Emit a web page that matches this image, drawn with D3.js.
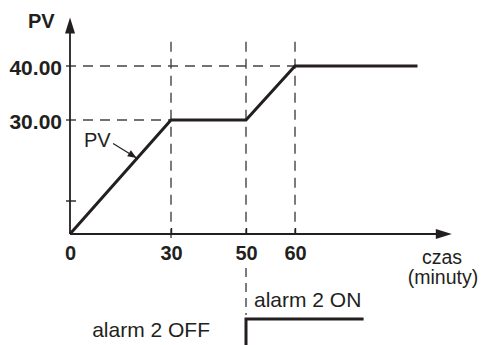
<!DOCTYPE html>
<html>
<head>
<meta charset="utf-8">
<script src="https://cdn.jsdelivr.net/npm/d3@7"></script>
<style>
  html, body { margin: 0; padding: 0; background: #fff; }
  svg text { font-family: Arial, "Liberation Sans", Helvetica, sans-serif; fill: #231f20; }
</style>
</head>
<body>
<script>
(function() {
  'use strict';

  // x ticks (minutes) and PV ramp/soak profile
  const timeTicks = [0, 30, 50, 60];
  const pvTime = [0, 30, 50, 60, 85];
  const pvValue = [0, 30, 30, 40, 40];
  const pvTicks = [30, 40];
  const minorTick = 10;
  // alarm 2 output: off before minute 50, on afterwards
  const alarmTime = [50, 50, 74];
  const alarmState = [0, 1, 1];

  const w = 482;
  const h = 345;
  const ink = '#231f20';
  const dashInk = '#444';

  // schematic drawing, not to scale -> piecewise scales
  const x = d3.scaleLinear()
    .domain([0, 30, 50, 60])
    .range([70, 171, 246, 295]);
  const y = d3.scaleLinear()
    .domain([0, 10, 30, 40])
    .range([234, 201, 120, 66]);
  const alarmY = d3.scaleLinear()
    .domain([0, 1])
    .range([352, 319]);

  const xEnd = 92;   // end of time axis (arrow tip)
  const yTop = 49;   // end of PV axis (arrow tip)
  const guideTop = 44.5;

  const svg = d3.select('body')
    .append('svg')
    .attr('width', w)
    .attr('height', h);

  // dashed guide lines
  const guides = svg.append('g')
    .attr('stroke', dashInk)
    .attr('stroke-width', 1.4)
    .attr('stroke-dasharray', '10,7')
    .attr('fill', 'none');
  guides.append('line')
    .attr('x1', x(0) - 4).attr('x2', x(30))
    .attr('y1', y(30)).attr('y2', y(30));
  guides.append('line')
    .attr('x1', x(0) - 4).attr('x2', x(60))
    .attr('y1', y(40)).attr('y2', y(40));
  guides.append('line')
    .attr('x1', x(30)).attr('x2', x(30))
    .attr('y1', y(guideTop)).attr('y2', y(0) + 4);
  guides.append('line')
    .attr('x1', x(50)).attr('x2', x(50))
    .attr('y1', y(guideTop)).attr('y2', y(0));
  guides.append('line')
    .attr('x1', x(50)).attr('x2', x(50))
    .attr('y1', y(0) + 34).attr('y2', alarmY(1) - 4)
    .attr('stroke-dasharray', '9,6');
  guides.append('line')
    .attr('x1', x(60)).attr('x2', x(60))
    .attr('y1', y(guideTop)).attr('y2', y(0));

  // axes lines
  svg.append('line')
    .attr('x1', x(0)).attr('x2', x(xEnd) - 12)
    .attr('y1', y(0)).attr('y2', y(0))
    .attr('stroke', ink).attr('stroke-width', 1.8);
  svg.append('line')
    .attr('x1', x(0)).attr('x2', x(0))
    .attr('y1', y(0)).attr('y2', y(yTop) + 12)
    .attr('stroke', ink).attr('stroke-width', 1.8);

  // arrow heads
  const xa = x(xEnd), ya = y(0);
  svg.append('path')
    .attr('d', `M${xa},${ya}L${xa - 16},${ya - 5}L${xa - 16},${ya + 5}Z`)
    .attr('fill', ink);
  const xb = x(0), yb = y(yTop);
  svg.append('path')
    .attr('d', `M${xb},${yb}L${xb - 5},${yb + 16}L${xb + 5},${yb + 16}Z`)
    .attr('fill', ink);

  // x axis ticks and labels
  const xAxis = d3.axisBottom(x)
    .tickValues(timeTicks)
    .tickFormat(d3.format('d'))
    .tickSizeInner(-6)
    .tickSizeOuter(0)
    .tickPadding(12);
  const gx = svg.append('g')
    .attr('id', 'x-axis')
    .attr('transform', 'translate(0,' + y(0) + ')')
    .call(xAxis);
  gx.select('.domain').remove();
  gx.selectAll('.tick line')
    .attr('stroke', ink)
    .attr('stroke-width', 1.4)
    .filter((d) => d === 0).remove();
  gx.selectAll('.tick text')
    .attr('font-size', 20)
    .attr('font-weight', 'bold')
    .attr('fill', ink)
    .style('font-family', 'Arial, "Liberation Sans", sans-serif');

  // y axis labels
  const yAxis = d3.axisLeft(y)
    .tickValues(pvTicks)
    .tickFormat(d3.format('.2f'))
    .tickSize(0)
    .tickPadding(8);
  const gy = svg.append('g')
    .attr('id', 'y-axis')
    .attr('transform', 'translate(' + x(0) + ',0)')
    .call(yAxis);
  gy.select('.domain').remove();
  gy.selectAll('.tick text')
    .attr('font-size', 21)
    .attr('font-weight', 'bold')
    .attr('dy', '0.42em')
    .attr('fill', ink)
    .style('font-family', 'Arial, "Liberation Sans", sans-serif');

  // minor tick across the PV axis
  svg.append('line')
    .attr('x1', x(0) - 4).attr('x2', x(0) + 6)
    .attr('y1', y(minorTick)).attr('y2', y(minorTick))
    .attr('stroke', ink).attr('stroke-width', 1.4);

  // PV profile
  const pv = pvTime.map((t, i) => [t, pvValue[i]]);
  svg.append('path')
    .datum(pv)
    .attr('d', d3.line().x((d) => x(d[0])).y((d) => y(d[1])))
    .attr('fill', 'none')
    .attr('stroke', ink)
    .attr('stroke-width', 3)
    .attr('stroke-linejoin', 'miter');

  // alarm output step
  const alarm = alarmTime.map((t, i) => [t, alarmState[i]]);
  svg.append('path')
    .datum(alarm)
    .attr('d', d3.line().x((d) => x(d[0])).y((d) => alarmY(d[1])))
    .attr('fill', 'none')
    .attr('stroke', ink)
    .attr('stroke-width', 3);

  // axis titles
  svg.append('text')
    .attr('x', 28).attr('y', 28)
    .attr('font-size', 20)
    .attr('font-weight', 'bold')
    .text('PV');
  svg.append('text')
    .attr('x', 442).attr('y', 264)
    .attr('font-size', 19.5)
    .attr('text-anchor', 'middle')
    .text('czas');
  svg.append('text')
    .attr('x', 443).attr('y', 284)
    .attr('font-size', 19.5)
    .attr('text-anchor', 'middle')
    .text('(minuty)');

  // PV callout with arrow
  svg.append('text')
    .attr('x', 84).attr('y', 147)
    .attr('font-size', 20)
    .text('PV');
  const c1 = [x(12.8), y(24.2)];
  const c2 = [x(19.8), y(20.6)];
  svg.append('line')
    .attr('x1', c1[0]).attr('y1', c1[1])
    .attr('x2', c2[0]).attr('y2', c2[1])
    .attr('stroke', ink).attr('stroke-width', 1.2);
  const ang = Math.atan2(c2[1] - c1[1], c2[0] - c1[0]);
  const hl = 9, hw = 3.5;
  const bx = c2[0] - hl * Math.cos(ang), by = c2[1] - hl * Math.sin(ang);
  svg.append('path')
    .attr('d', `M${c2[0]},${c2[1]}L${bx - hw * Math.sin(ang)},${by + hw * Math.cos(ang)}L${bx + hw * Math.sin(ang)},${by - hw * Math.cos(ang)}Z`)
    .attr('fill', ink);

  // alarm labels
  svg.append('text')
    .attr('x', x(50) + 8).attr('y', alarmY(1) - 12)
    .attr('font-size', 21)
    .text('alarm 2 ON');
  svg.append('text')
    .attr('x', x(50) - 36).attr('y', 337)
    .attr('font-size', 21)
    .attr('text-anchor', 'end')
    .text('alarm 2 OFF');
}());
</script>
</body>
</html>
